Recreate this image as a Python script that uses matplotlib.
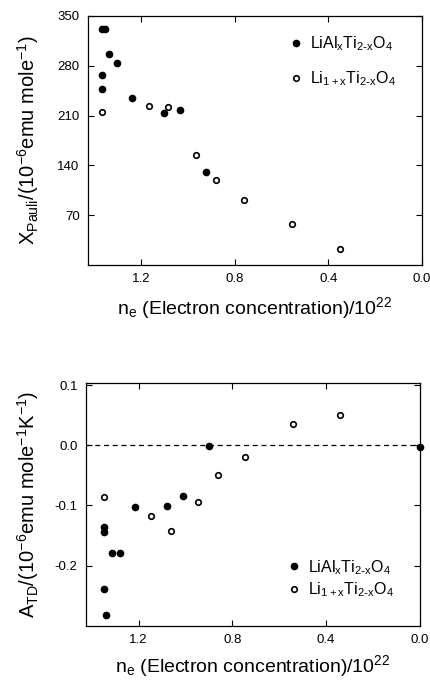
import matplotlib
matplotlib.use('Agg')
import matplotlib.pyplot as plt
from matplotlib.ticker import FormatStrFormatter

plt.rcParams['font.family'] = ['Liberation Sans', 'DejaVu Sans']
plt.rcParams['mathtext.default'] = 'regular'
plt.rcParams['axes.unicode_minus'] = False

# Panel 1: Pauli susceptibility vs electron concentration
al_ne_top = [1.367, 1.353, 1.334, 1.300, 1.365, 1.365, 1.236, 1.099, 1.031, 0.922]
al_chi = [331, 331, 296, 284, 267, 247, 235, 213, 218, 130]
li_ne_top = [1.365, 1.163, 1.082, 0.964, 0.881, 0.760, 0.555, 0.351]
li_chi = [215, 223, 222, 155, 120, 91, 57, 22.5]

# Panel 2: A_TD vs electron concentration
al_ne_bot = [1.346, 1.346, 1.315, 1.281, 1.346, 1.339, 1.215, 1.079, 1.012, 0.901, 0.0]
al_atd = [-0.136, -0.144, -0.179, -0.179, -0.239, -0.282, -0.102, -0.101, -0.084, -0.001, -0.002]
li_ne_bot = [1.346, 1.147, 1.064, 0.946, 0.863, 0.744, 0.543, 0.341]
li_atd = [-0.086, -0.118, -0.143, -0.094, -0.050, -0.019, 0.035, 0.050]

xticks = [1.2, 0.8, 0.4, 0.0]
top_yticks = [70, 140, 210, 280, 350]
bot_yticks = [-0.2, -0.1, 0.0, 0.1]

lab_al = r'LiAl$_x$Ti$_{2\text{-}x}$O$_4$'
lab_li = r'Li$_{1+x}$Ti$_{2\text{-}x}$O$_4$'
xlab = r'n$_e$ (Electron concentration)/10$^{22}$'

fig = plt.figure(figsize=(4.3, 6.81), dpi=100)
ax1 = fig.add_axes([0.2047, 0.611, 0.777, 0.3656])
ax2 = fig.add_axes([0.2, 0.081, 0.776, 0.357])


def style(ax, pad):
    ax.set_xlim(1.425, 0.0)
    ax.set_xticks(xticks)
    ax.xaxis.set_major_formatter(FormatStrFormatter('%.1f'))
    ax.tick_params(direction='in', top=True, right=True, length=4, width=0.8,
                   labelsize=9.5, pad=6)
    for s in ax.spines.values():
        s.set_linewidth(0.9)
    ax.set_xlabel(xlab, fontsize=14, labelpad=pad)


ax1.plot(al_ne_top, al_chi, 'o', color='black', markersize=4.5, label=lab_al)
ax1.plot(li_ne_top, li_chi, 'o', mfc='white', mec='black', mew=1.2, markersize=4,
         label=lab_li)
ax1.set_ylim(0, 350)
ax1.set_yticks(top_yticks)
style(ax1, 7)
ax1.set_ylabel(r'X$_{Pauli}$/(10$^{-6}$emu mole$^{-1}$)', fontsize=14.5, labelpad=12)
ax1.legend(loc='upper left', bbox_to_anchor=(0.575, 0.95), frameon=False,
           fontsize=11.5, labelspacing=1.0, handletextpad=0.3, handlelength=1.2,
           borderaxespad=0)

ax2.axhline(0, color='black', linestyle='--', linewidth=0.9, dashes=(4, 3))
ax2.plot(al_ne_bot, al_atd, 'o', color='black', markersize=4.5, label=lab_al,
         clip_on=False, zorder=3)
ax2.plot(li_ne_bot, li_atd, 'o', mfc='white', mec='black', mew=1.2, markersize=4,
         label=lab_li)
ax2.set_ylim(-0.30, 0.104)
ax2.set_yticks(bot_yticks)
ax2.yaxis.set_major_formatter(FormatStrFormatter('%.1f'))
style(ax2, 5)
ax2.set_ylabel(r'A$_{TD}$/(10$^{-6}$emu mole$^{-1}$K$^{-1}$)', fontsize=14.5, labelpad=10)
ax2.legend(loc='upper left', bbox_to_anchor=(0.575, 0.305), frameon=False,
           fontsize=11.5, labelspacing=0.25, handletextpad=0.3, handlelength=1.2,
           borderaxespad=0)

fig.savefig('out.png', dpi=100)
